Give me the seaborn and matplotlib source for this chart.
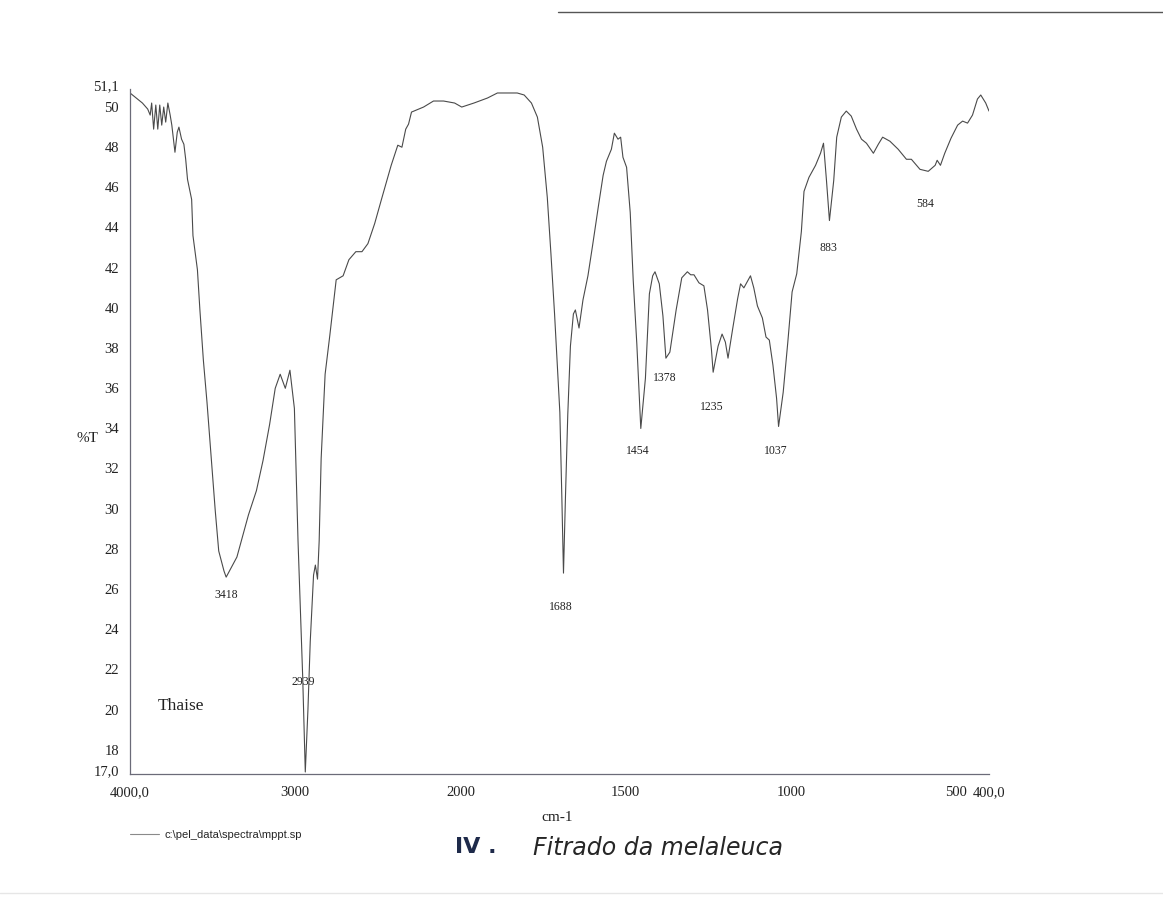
import matplotlib
matplotlib.use('Agg')
import matplotlib.pyplot as plt
from matplotlib.transforms import ScaledTranslation
from matplotlib.lines import Line2D
import numpy as np
import pandas as pd
import seaborn as sns

# IR spectrum (wavenumber in cm-1, %T)
wavenumber = [4000, 3925, 3893, 3878, 3869, 3857, 3844, 3832, 3820, 3808, 3796, 3784, 3771, 3757, 3747,
              3728, 3714, 3704, 3688, 3674, 3663, 3652, 3627, 3619, 3592, 3577, 3556, 3534, 3512, 3484,
              3463, 3431, 3418, 3353, 3283, 3235, 3195, 3155, 3121, 3091, 3060, 3032, 3005, 2983, 2955,
              2939, 2923, 2909, 2889, 2878, 2865, 2855, 2843, 2819, 2791, 2752, 2710, 2675, 2633, 2596,
              2560, 2519, 2478, 2419, 2379, 2354, 2331, 2314, 2296, 2223, 2163, 2102, 2035, 1996, 1959,
              1918, 1888, 1858, 1828, 1807, 1785, 1767, 1751, 1737, 1726, 1715, 1699, 1693, 1688, 1682,
              1675, 1667, 1658, 1652, 1641, 1629, 1614, 1600, 1582, 1568, 1558, 1543, 1534, 1523, 1515,
              1508, 1497, 1486, 1477, 1466, 1454, 1440, 1428, 1418, 1411, 1398, 1387, 1378, 1366, 1347,
              1330, 1313, 1303, 1293, 1278, 1263, 1252, 1240, 1235, 1220, 1208, 1198, 1190, 1176, 1161,
              1152, 1142, 1132, 1122, 1112, 1101, 1086, 1075, 1065, 1054, 1043, 1037, 1023, 1009, 996,
              982, 968, 960, 945, 925, 910, 901, 892, 883, 870, 861, 847, 832, 817, 801,
              786, 771, 750, 735, 722, 700, 675, 650, 635, 609, 584, 563, 557, 547, 534,
              515, 495, 480, 465, 450, 435, 425, 410, 400]
transmittance = [50.9, 50.4, 50.1, 49.8, 50.4, 49.1, 50.3, 49.1, 50.3, 49.3, 50.2, 49.45, 50.4, 49.8, 49.3,
                 47.95, 48.95, 49.2, 48.6, 48.35, 47.6, 46.6, 45.6, 43.8, 42.1, 40.1, 37.6, 35.5, 33.1, 30.1,
                 28.1, 27.1, 26.8, 27.8, 29.9, 31.1, 32.6, 34.4, 36.2, 36.9, 36.2, 37.1, 35.2, 28.6, 21.9,
                 17.1, 20.2, 23.6, 26.9, 27.4, 26.7, 28.6, 32.7, 36.9, 38.8, 41.6, 41.8, 42.6, 43.0, 43.0,
                 43.4, 44.4, 45.6, 47.3, 48.3, 48.2, 49.1, 49.35, 49.95, 50.2, 50.5, 50.5, 50.4, 50.2, 50.4,
                 50.65, 50.9, 50.9, 50.9, 50.8, 50.4, 49.7, 48.2, 45.7, 42.9, 39.9, 35.0, 30.8, 27.0, 30.8,
                 34.9, 38.3, 39.9, 40.1, 39.2, 40.6, 41.8, 43.3, 45.3, 46.8, 47.5, 48.1, 48.9, 48.6, 48.7,
                 47.7, 47.2, 44.95, 41.6, 38.4, 34.2, 36.7, 40.9, 41.8, 42.0, 41.4, 39.8, 37.7, 38.0, 40.1,
                 41.7, 42.0, 41.85, 41.85, 41.45, 41.3, 40.1, 38.1, 37.0, 38.3, 38.9, 38.5, 37.7, 39.15, 40.65,
                 41.4, 41.2, 41.5, 41.8, 41.2, 40.3, 39.7, 38.75, 38.6, 37.35, 35.7, 34.3, 36.0, 38.5, 41.0,
                 41.9, 44.0, 46.0, 46.7, 47.3, 47.9, 48.4, 46.55, 44.55, 46.55, 48.7, 49.7, 50.0, 49.75, 49.1,
                 48.6, 48.4, 47.9, 48.35, 48.7, 48.5, 48.1, 47.6, 47.6, 47.1, 47.0, 47.3, 47.55, 47.3, 47.9,
                 48.65, 49.3, 49.5, 49.4, 49.8, 50.6, 50.8, 50.4, 50.0]

# peak labels: text, where the label sits (cm-1, %T)
peak_names = ['3418', '2939', '1688', '1454', '1378', '1235', '1037', '883', '584']
peak_label_x = [3418, 2950, 1697, 1462, 1380, 1238, 1044, 885, 593]
peak_label_t = [25.9, 21.6, 25.3, 33.1, 36.7, 35.25, 33.1, 43.2, 45.35]

x_ticks = [4000, 3000, 2000, 1500, 1000, 500, 400]
x_tick_labels = ['4000,0', '3000', '2000', '1500', '1000', '500', '400,0']
y_ticks = [17, 18, 20, 22, 24, 26, 28, 30, 32, 34, 36, 38, 40, 42, 44, 46, 48, 50, 51.1]
y_tick_labels = ['17,0', '18', '20', '22', '24', '26', '28', '30', '32', '34', '36', '38', '40',
                 '42', '44', '46', '48', '50', '51,1']

spectrum = pd.DataFrame({'cm-1': wavenumber, '%T': transmittance})

sns.set_style('white')
plt.rcParams['font.family'] = ['Liberation Serif', 'DejaVu Serif']

axis_col = '#6b6b78'
line_col = '#4a4a4a'


# the instrument doubles the scale below 2000 cm-1
def fwd(w):
    w = np.asarray(w, dtype=float)
    return np.where(w > 2000, 2000 + (w - 2000) / 2, w)


def inv(u):
    u = np.asarray(u, dtype=float)
    return np.where(u > 2000, 2000 + (u - 2000) * 2, u)


fig = plt.figure(figsize=(11.63, 9.06), dpi=100)
ax = fig.add_axes([0.1118, 0.1457, 0.7386, 0.7561])

sns.lineplot(data=spectrum, x='cm-1', y='%T', ax=ax, sort=False, estimator=None,
             color=line_col, linewidth=0.8)

ax.set_xscale('function', functions=(fwd, inv))
ax.set_xlim(4000, 400)
ax.set_ylim(17, 51.1)

ax.set_xticks(x_ticks)
ax.set_xticklabels(x_tick_labels)
ax.set_yticks(y_ticks)
ax.set_yticklabels(y_tick_labels)
ax.minorticks_off()
ax.tick_params(axis='both', direction='out', length=4, width=0.8, color=axis_col,
               labelsize=10.5, labelcolor='#222222')
ax.tick_params(axis='y', pad=4)
ax.tick_params(axis='x', pad=5)
for lab in ax.get_yticklabels():
    lab.set_transform(lab.get_transform() + ScaledTranslation(0, 3 / 72, fig.dpi_scale_trans))

for side in ['top', 'right']:
    ax.spines[side].set_visible(False)
for side in ['left', 'bottom']:
    ax.spines[side].set_color(axis_col)
    ax.spines[side].set_linewidth(0.9)

ax.set_xlabel('cm-1', fontsize=11, color='#222222')
ax.xaxis.set_label_coords(0.497, -0.054)
ax.set_ylabel('%T', fontsize=11, color='#222222', rotation=0)
ax.yaxis.set_label_coords(-0.049, 0.48)

for name, px, pt in zip(peak_names, peak_label_x, peak_label_t):
    ax.text(px, pt, name, fontsize=8.5, ha='center', va='center', color='#222222')

ax.text(3835, 20.4, 'Thaise', fontsize=12.5, ha='left', va='center', color='#222222')

# file legend under the plot
fig.legend(handles=[Line2D([], [], color='#8a8a8a', linewidth=0.8)],
           labels=[r'c:\pel_data\spectra\mppt.sp'], loc='center left',
           bbox_to_anchor=(0.103, 0.078), frameon=False, handlelength=2.6,
           handletextpad=0.5, prop={'family': 'Liberation Sans', 'size': 8})

# handwritten caption
fig.text(0.391, 0.058, 'IV .', fontsize=16, color='#1e2a4a', family='DejaVu Sans', weight='bold')
fig.text(0.458, 0.056, 'Fitrado da melaleuca', fontsize=17, color='#262626',
         family='DejaVu Sans', style='italic')

# scanner edges
fig.add_artist(Line2D([0.48, 1.0], [0.987, 0.987], color='#555555', linewidth=1.0))
fig.add_artist(Line2D([0.0, 1.0], [0.014, 0.014], color='#e6e6e6', linewidth=1.0))

fig.savefig('out.png', dpi=100)
